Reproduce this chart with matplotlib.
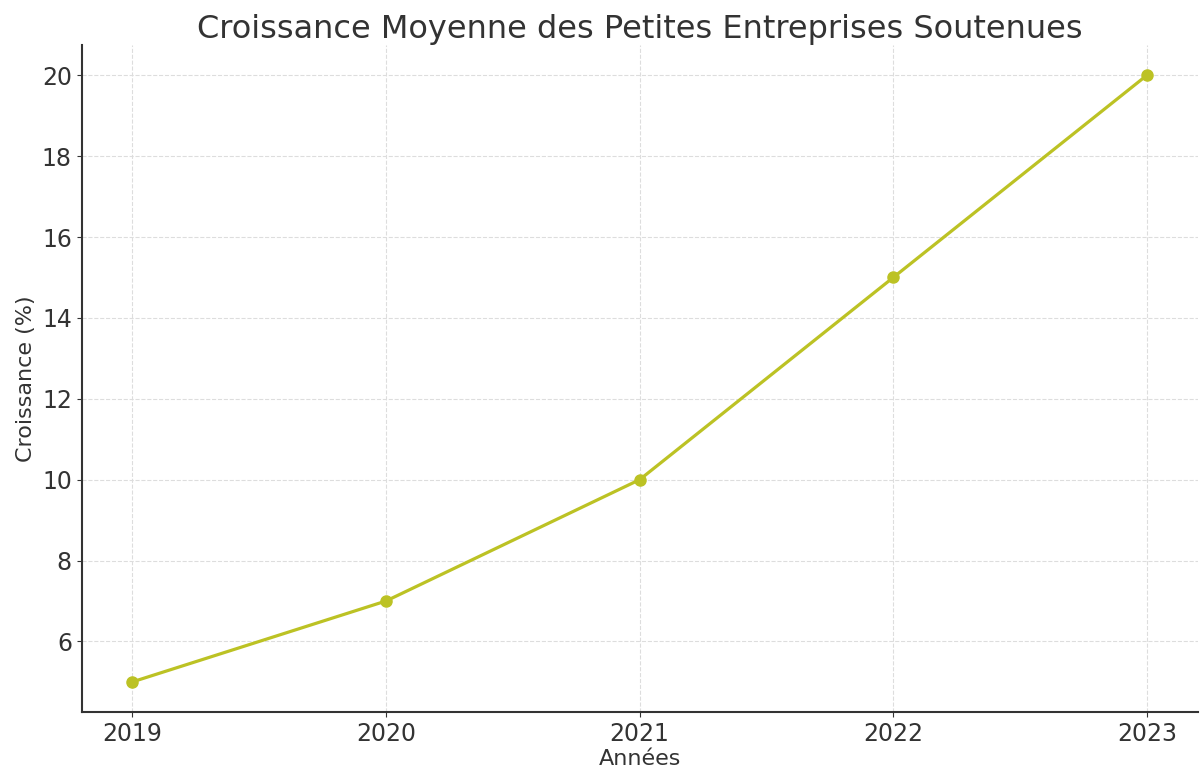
import matplotlib
matplotlib.use('Agg')
import matplotlib.pyplot as plt

annees = [2019, 2020, 2021, 2022, 2023]
croissance = [5, 7, 10, 15, 20]

fig, ax = plt.subplots(figsize=(12, 7.75), dpi=100)
ax.plot(annees, croissance, marker='o', color='#bcc224', linewidth=2.3, markersize=8)
ax.set_title('Croissance Moyenne des Petites Entreprises Soutenues', fontsize=23, color='#333333', pad=4)
ax.set_xlabel('Années', fontsize=16, color='#333333', labelpad=2)
ax.set_ylabel('Croissance (%)', fontsize=16, color='#333333')
ax.set_xticks(annees)
ax.tick_params(labelsize=17, colors='#333333')
ax.grid(True, linestyle='--', color='#dddddd', linewidth=0.8)
ax.spines['top'].set_visible(False)
ax.spines['right'].set_visible(False)
for s in ['left', 'bottom']:
    ax.spines[s].set_color('#333333')
    ax.spines[s].set_linewidth(1.5)
plt.subplots_adjust(left=0.068, right=0.998, top=0.942, bottom=0.081)
plt.savefig('out.png')
